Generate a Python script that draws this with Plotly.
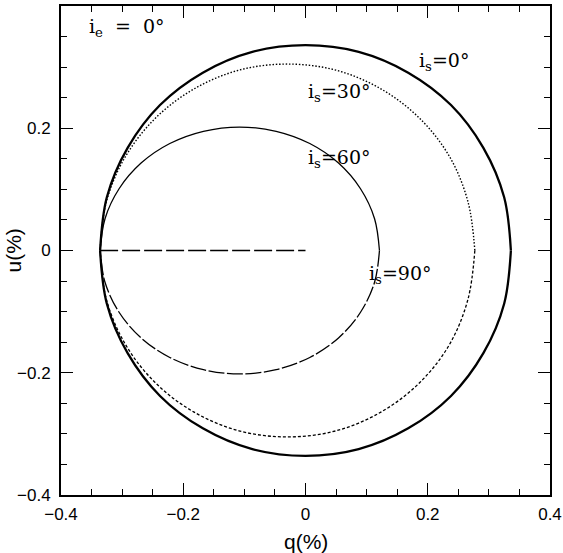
import plotly.graph_objects as go

# ---- curve points (upper / lower halves) ----
q_is0 = [0.336, 0.325, 0.291, 0.238, 0.168, 0.087, 0.0, -0.087, -0.168, -0.238, -0.291, -0.325, -0.336]
u_is0_up = [0.0, 0.087, 0.168, 0.238, 0.291, 0.325, 0.336, 0.325, 0.291, 0.238, 0.168, 0.087, 0.0]
u_is0_dn = [0.0, -0.087, -0.168, -0.238, -0.291, -0.325, -0.336, -0.325, -0.291, -0.238, -0.168, -0.087, 0.0]

q_is30 = [0.277, 0.266, 0.236, 0.187, 0.124, 0.050, -0.030, -0.109, -0.183, -0.246, -0.295, -0.326, -0.336]
u_is30_up = [0.0, 0.079, 0.153, 0.216, 0.264, 0.295, 0.305, 0.295, 0.264, 0.216, 0.153, 0.079, 0.0]
u_is30_dn = [0.0, -0.079, -0.153, -0.216, -0.264, -0.295, -0.305, -0.295, -0.264, -0.216, -0.153, -0.079, 0.0]

q_is60 = [0.121, 0.113, 0.090, 0.054, 0.007, -0.048, -0.108, -0.167, -0.222, -0.269, -0.305, -0.328, -0.336]
u_is60_up = [0.0, 0.052, 0.101, 0.143, 0.175, 0.195, 0.202, 0.195, 0.175, 0.143, 0.101, 0.052, 0.0]
u_is60_dn = [0.0, -0.052, -0.101, -0.143, -0.175, -0.195, -0.202, -0.195, -0.175, -0.143, -0.101, -0.052, 0.0]

q_is90 = [-0.336, 0.0]
u_is90 = [0.0, 0.0]

tick_vals = [-0.4, -0.2, 0, 0.2, 0.4]
tick_text = ["\u22120.4", "\u22120.2", "0", "0.2", "0.4"]

labels = ["i<sub>s</sub>=0\u00b0", "i<sub>s</sub>=30\u00b0", "i<sub>s</sub>=60\u00b0", "i<sub>s</sub>=90\u00b0"]
label_q = [0.183, 0.0, 0.0, 0.10]
label_u = [0.310, 0.258, 0.150, -0.040]

fig = go.Figure()

def curve(q, u, width, dash):
    fig.add_trace(go.Scatter(
        x=q, y=u, mode="lines",
        line=dict(color="black", width=width, dash=dash, shape="spline", smoothing=1.0),
        hoverinfo="skip", showlegend=False,
    ))

curve(q_is0, u_is0_up, 2.3, "solid")
curve(q_is0, u_is0_dn, 2.3, "solid")
curve(q_is30, u_is30_up, 1.4, "1.5px,1.8px")
curve(q_is30, u_is30_dn, 1.3, "3px,2px")
curve(q_is60, u_is60_up, 1.3, "solid")
curve(q_is60, u_is60_dn, 1.3, "16px,2.5px")
curve(q_is90, u_is90, 1.3, "18px,4px")

for txt, x, y in zip(labels, label_q, label_u):
    fig.add_annotation(x=x, y=y, text=txt, showarrow=False, xanchor="left", yanchor="middle",
                       font=dict(family="DejaVu Serif", size=19, color="black"))

fig.add_annotation(x=-0.357, y=0.365, text="i<sub>e</sub>  =  0\u00b0", showarrow=False,
                   xanchor="left", yanchor="middle",
                   font=dict(family="DejaVu Serif", size=19, color="black"))

# axis titles as paper annotations so the frame stays put
title_font = dict(family="Liberation Sans", size=21, color="black")
fig.add_annotation(x=0.5, y=0, xref="paper", yref="paper", yshift=-46, text="q(%)",
                   showarrow=False, xanchor="center", yanchor="middle", font=title_font)
fig.add_annotation(x=0, y=0.5, xref="paper", yref="paper", xshift=-48, text="u(%)", textangle=-90,
                   showarrow=False, xanchor="center", yanchor="middle", font=title_font)

axis_common = dict(
    range=[-0.4, 0.4],
    tickmode="array", tickvals=tick_vals, ticktext=tick_text,
    ticks="inside", ticklen=12, tickwidth=1.3, tickcolor="black",
    minor=dict(dtick=0.05, tick0=0, ticks="inside", ticklen=6, tickwidth=1.2, tickcolor="black"),
    showline=True, linewidth=2, linecolor="black", mirror="ticks",
    showgrid=False, zeroline=False, automargin=False,
    tickfont=dict(family="Liberation Sans", size=17, color="black"),
)

fig.update_xaxes(**axis_common, ticklabelstandoff=3)
fig.update_yaxes(**axis_common, ticklabelstandoff=5)

fig.update_layout(
    width=563, height=553,
    margin=dict(l=61, r=13, t=6, b=58),
    plot_bgcolor="white", paper_bgcolor="white",
    showlegend=False,
)

# drop the browser's default body margin so the figure sits at the page corner
fig.write_html("out.html", config={"displayModeBar": False},
               post_script="document.body.style.margin='0px';")
